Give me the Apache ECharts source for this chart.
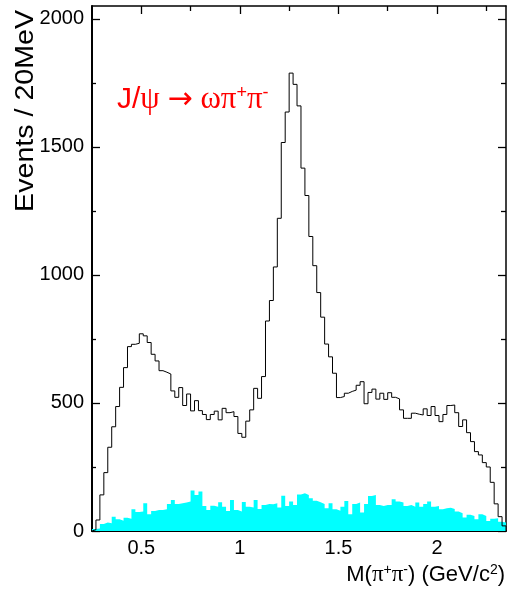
<!DOCTYPE html>
<html><head><meta charset="utf-8">
<script src="https://cdn.jsdelivr.net/npm/echarts@6/dist/echarts.min.js"></script>
<style>html,body{margin:0;padding:0;background:#fff}#c{width:507px;height:590px}</style>
</head><body><div id="c"></div>
<script>
// 20 MeV bins starting at 0.25 GeV
const binStart = 0.25;
const binWidth = 0.02;
const signal = [5,43,141,228,327,407,486,561,638,720,729,733,770,762,736,690,664,626,620,613,
  547,522,560,490,535,469,509,470,455,435,455,468,434,479,462,466,447,381,366,429,
  473,557,518,603,820,900,1031,1221,1517,1636,1788,1744,1660,1417,1310,1150,1036,931,835,730,
  680,616,521,525,538,545,550,569,583,497,541,554,515,538,514,540,522,516,473,440,
  440,460,456,453,477,451,486,451,427,455,490,492,462,408,434,384,349,310,297,267,
  250,190,106,56,20];
const background = [8,10,27,33,30,56,46,40,52,48,85,74,76,108,65,78,82,82,85,105,
  121,105,108,111,115,158,141,154,98,82,99,95,112,95,78,121,82,76,113,95,
  92,121,86,102,105,104,108,92,138,98,115,102,143,147,141,128,118,112,105,89,
  108,85,79,95,117,65,105,111,72,105,137,141,102,98,102,102,124,115,111,98,
  102,95,111,95,105,115,95,98,85,89,91,86,76,69,53,63,59,46,65,59,
  39,48,50,36,33];
const xMajorTicks = [0.5, 1, 1.5, 2];
const xMinorTicks = [0.75, 1.25, 1.75, 2.25];
const yMajorTicks = [0, 500, 1000, 1500, 2000];
const yMinorTicks = [250, 750, 1250, 1750];
const xRange = [0.25, 2.35];
const yRange = [0, 2050];

function stepPoints(vals) {
  const pts = [[binStart, 0]];
  vals.forEach((v, i) => pts.push([+(binStart + i * binWidth).toFixed(4), v]));
  pts.push([+(binStart + vals.length * binWidth).toFixed(4), 0]);
  return pts;
}

const FONT = 'Liberation Sans, Arial, Helvetica, sans-serif';
const SERIF = 'Liberation Serif, Times New Roman, serif';

function xAx(pos, ticks, len, labels, lineW) {
  return {
    type: 'value', position: pos, min: xRange[0], max: xRange[1],
    axisLine: { show: lineW > 0, onZero: false, lineStyle: { color: '#000', width: lineW || 1 } },
    axisTick: { show: true, inside: true, length: len, customValues: ticks, lineStyle: { color: '#000', width: 1.3 } },
    axisLabel: labels ? { show: true, customValues: labels, color: '#000', fontSize: 20, fontFamily: FONT, margin: 7,
      formatter: v => String(+Number(v).toFixed(2)) } : { show: false },
    splitLine: { show: false }
  };
}
function yAx(pos, ticks, len, labels, lineW) {
  return {
    type: 'value', position: pos, min: yRange[0], max: yRange[1],
    axisLine: { show: lineW > 0, onZero: false, lineStyle: { color: '#000', width: lineW || 1 } },
    axisTick: { show: true, inside: true, length: len, customValues: ticks, lineStyle: { color: '#000', width: 1.3 } },
    axisLabel: labels ? { show: true, customValues: labels, color: '#000', fontSize: 20, fontFamily: FONT, margin: 8,
      formatter: v => String(Math.round(Number(v))) } : { show: false },
    splitLine: { show: false }
  };
}

const chart = echarts.init(document.getElementById('c'), null, { renderer: 'canvas' });
chart.setOption({
  animation: false,
  backgroundColor: '#fff',
  grid: { left: 92, right: 1, top: 6, bottom: 59, containLabel: false },
  xAxis: [
    xAx('bottom', xMajorTicks, 8, xMajorTicks, 2),
    xAx('bottom', xMinorTicks, 4, null, 0),
    xAx('top', xMajorTicks, 8, null, 1.5),
    xAx('top', xMinorTicks, 5, null, 0)
  ],
  yAxis: [
    yAx('left', yMajorTicks, 8, yMajorTicks, 2),
    yAx('left', yMinorTicks, 4, null, 0),
    yAx('right', yMajorTicks, 8, null, 1.5),
    yAx('right', yMinorTicks, 5, null, 0)
  ],
  series: [
    {
      type: 'line', step: 'end', data: stepPoints(background), xAxisIndex: 0, yAxisIndex: 0,
      showSymbol: false, symbol: 'none',
      lineStyle: { width: 0, opacity: 0 },
      areaStyle: { color: '#00ffff', opacity: 1 }, z: 2
    },
    {
      type: 'line', step: 'end', data: stepPoints(signal), xAxisIndex: 0, yAxisIndex: 0,
      showSymbol: false, symbol: 'none',
      lineStyle: { color: '#000', width: 1 }, z: 3
    }
  ],
  graphic: [
    { type: 'text', x: 26, y: 10, rotation: Math.PI / 2, scaleX: 1.1,
      style: { text: 'Events / 20MeV', fontSize: 26, fontFamily: FONT, fill: '#000', align: 'right', verticalAlign: 'middle' } },
    { type: 'text', x: 505, y: 575,
      style: { text: '{t|M(}{g|π}{s|+}{g|π}{s|-}{t|) (GeV/c}{s|2}{t|)}', align: 'right', verticalAlign: 'middle',
        rich: {
          t: { fontSize: 22, fontFamily: FONT, fill: '#000' },
          g: { fontSize: 23, fontFamily: SERIF, fill: '#000' },
          s: { fontSize: 14, fontFamily: FONT, fill: '#000', verticalAlign: 'top' }
        } } },
    { type: 'text', x: 117, y: 100,
      style: { text: '{a|J/}{g|ψ }{r|→}{g| ωπ}{s|+}{g|π}{s|-}', align: 'left', verticalAlign: 'middle',
        rich: {
          a: { fontSize: 30, fontFamily: FONT, fill: '#ff0000' },
          g: { fontSize: 31, fontFamily: SERIF, fill: '#ff0000' },
          r: { fontSize: 30, fontFamily: 'DejaVu Sans, sans-serif', fill: '#ff0000' },
          s: { fontSize: 18, fontFamily: FONT, fill: '#ff0000', verticalAlign: 'top' }
        } } }
  ]
});
</script></body></html>
